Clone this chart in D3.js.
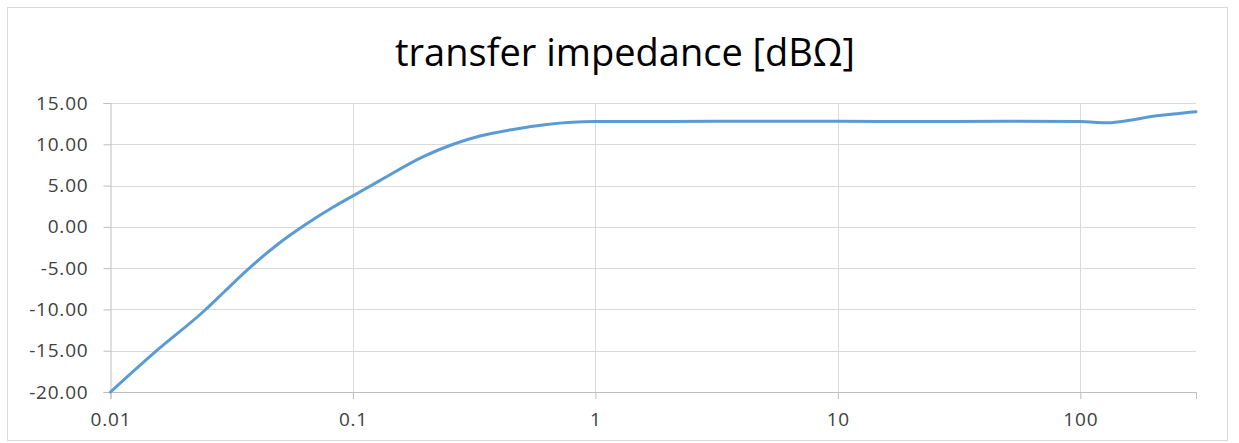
<!DOCTYPE html>
<html>
<head>
<meta charset="utf-8">
<script src="https://cdn.jsdelivr.net/npm/d3@7"></script>
<style>
body{margin:0;background:#fff}
text{font-family:"Open Sans",sans-serif;fill:#404040}
</style>
</head>
<body>
<div id="chart"></div>
<script>
const width = 1239
const height = 443

// measured curve, frequency -> dBΩ
const freq = [0.01,0.0155,0.0245,0.0296,0.0364,0.049,0.0624,0.083,0.1,0.129,0.195,0.259,0.334,0.457,0.63,1,2,5,10,20,50,100,130,160,200,250,300]
const zt = [-20,-15,-10.1,-7.8,-5.3,-2.1,0.1,2.4,3.75,5.6,8.5,10.0,11.0,11.8,12.4,12.75,12.75,12.8,12.8,12.75,12.8,12.75,12.6,12.9,13.4,13.7,13.95]

const yTicks = [-20,-15,-10,-5,0,5,10,15]
const xTicks = [0.01,0.1,1,10,100]

const margin = {left:110.5, right:43, top:103, bottom:51}

const svg = d3.select("#chart")
.append("svg")
.attr("width",width)
.attr("height",height)

svg.append("rect")
.attr("x",7.5).attr("y",7.5)
.attr("width",1220).attr("height",433)
.attr("fill","none")
.attr("stroke","#d9d9d9")

const x = d3.scaleLog()
.domain([0.01,300])
.range([margin.left,width-margin.right])

const y = d3.scaleLinear()
.domain([-20,15])
.range([height-margin.bottom,margin.top])

// grid
svg.append("g")
.selectAll("line")
.data(yTicks.filter(d=>d>-20))
.enter()
.append("line")
.attr("x1",x(0.01)).attr("x2",x(300))
.attr("y1",d=>Math.round(y(d))+0.5).attr("y2",d=>Math.round(y(d))+0.5)
.attr("stroke","#d9d9d9")

svg.append("g")
.selectAll("line")
.data(xTicks.slice(1))
.enter()
.append("line")
.attr("x1",d=>Math.round(x(d))+0.5).attr("x2",d=>Math.round(x(d))+0.5)
.attr("y1",y(15)).attr("y2",y(-20))
.attr("stroke","#d9d9d9")

const fmt = d=>d3.format(".2f")(d).replace("\u2212","-")

// axes
const yAxis = svg.append("g")
.attr("transform",`translate(${margin.left},0)`)
.call(d3.axisLeft(y).tickValues(yTicks).tickFormat(fmt).tickSize(7).tickPadding(15))
yAxis.select(".domain").attr("stroke","#bfbfbf")
yAxis.selectAll(".tick line").attr("stroke","#bfbfbf")
yAxis.selectAll("text").attr("font-size",19).attr("letter-spacing","0.8px").attr("fill","#404040").attr("font-family","\"Open Sans\",sans-serif")

const xAxis = svg.append("g")
.attr("transform",`translate(0,${height-margin.bottom})`)
.call(d3.axisBottom(x).tickValues(xTicks).tickFormat(d=>String(d)).tickSize(7).tickPadding(14))
xAxis.select(".domain").attr("stroke","#bfbfbf")
xAxis.selectAll(".tick line").attr("stroke","#bfbfbf")
xAxis.selectAll("text").attr("font-size",19).attr("letter-spacing","0.8px").attr("fill","#404040").attr("font-family","\"Open Sans\",sans-serif")

// title
svg.append("text")
.attr("x",625)
.attr("y",66)
.attr("text-anchor","middle")
.attr("font-size",38)
.style("fill","#000")
.text("transfer impedance [dBΩ]")

const line = d3.line()
.x((d,i)=>x(freq[i]))
.y(d=>y(d))
.curve(d3.curveMonotoneX)

svg.append("path")
.datum(zt)
.attr("d",line)
.attr("fill","none")
.attr("stroke","#5b9bd5")
.attr("stroke-width",3)
.attr("stroke-linecap","round")
</script>
</body>
</html>
